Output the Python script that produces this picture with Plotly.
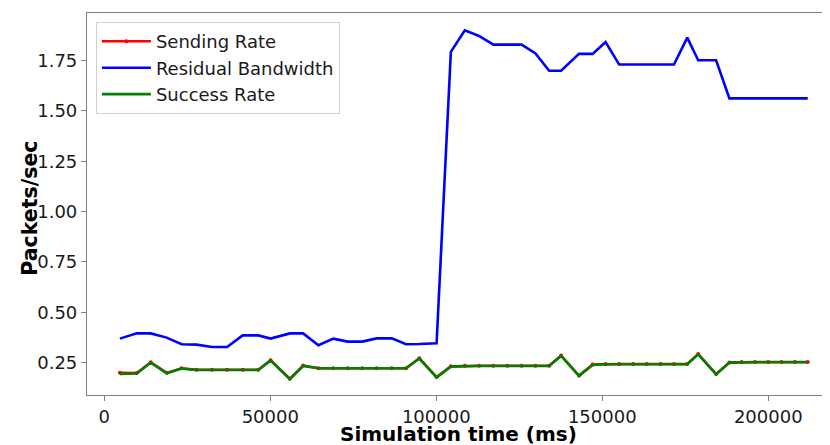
import plotly.graph_objects as go

time_ms = [4700, 9800, 14000, 18800, 23300, 27800, 32500, 37000, 41700, 46400,
           50100, 55900, 59900, 64500, 69000, 73300, 77700, 82000, 86600, 90900,
           94900, 100100, 104400, 108600, 112900, 117200, 121400, 125700, 129900, 134000,
           137600, 143000, 147100, 151000, 155100, 159300, 163400, 167600, 171600, 175600,
           178900, 184300, 188300, 192000, 196000, 200000, 204000, 208000, 211900]

residual_bw = [0.369, 0.395, 0.395, 0.374, 0.341, 0.339, 0.327, 0.327, 0.385, 0.385,
               0.369, 0.395, 0.395, 0.336, 0.369, 0.354, 0.354, 0.370, 0.370, 0.341,
               0.342, 0.346, 1.793, 1.900, 1.872, 1.829, 1.829, 1.829, 1.785, 1.699,
               1.699, 1.783, 1.783, 1.842, 1.730, 1.730, 1.730, 1.730, 1.730, 1.864,
               1.751, 1.751, 1.562, 1.562, 1.562, 1.562, 1.562, 1.562, 1.562]

success_rate = [0.194, 0.196, 0.250, 0.197, 0.220, 0.213, 0.213, 0.213, 0.213, 0.213,
                0.260, 0.167, 0.233, 0.222, 0.222, 0.222, 0.222, 0.222, 0.222, 0.222,
                0.270, 0.176, 0.230, 0.233, 0.233, 0.233, 0.233, 0.233, 0.233, 0.233,
                0.283, 0.184, 0.238, 0.242, 0.242, 0.242, 0.242, 0.242, 0.242, 0.242,
                0.291, 0.191, 0.250, 0.252, 0.252, 0.252, 0.252, 0.252, 0.252]

sending_rate = [0.200, 0.198, 0.252, 0.199, 0.222, 0.214, 0.214, 0.214, 0.214, 0.214,
                0.262, 0.170, 0.235, 0.222, 0.222, 0.222, 0.222, 0.222, 0.222, 0.222,
                0.272, 0.178, 0.232, 0.234, 0.234, 0.234, 0.234, 0.234, 0.234, 0.234,
                0.285, 0.186, 0.240, 0.243, 0.243, 0.243, 0.243, 0.243, 0.243, 0.243,
                0.293, 0.193, 0.251, 0.253, 0.253, 0.253, 0.253, 0.253, 0.253]

y_ticks = [0.25, 0.50, 0.75, 1.00, 1.25, 1.50, 1.75]
x_ticks = [0, 50000, 100000, 150000, 200000]

x_title = "Simulation time (ms)"
y_title = "Packets/sec"

FONT = "DejaVu Sans"

fig = go.Figure()
fig.add_trace(go.Scatter(x=time_ms, y=sending_rate, name="Sending Rate",
                         mode="lines+markers",
                         line=dict(color="#ff0000", width=2.5),
                         marker=dict(color="#ff0000", size=4, symbol="circle")))
fig.add_trace(go.Scatter(x=time_ms, y=residual_bw, name="Residual Bandwidth",
                         mode="lines", line=dict(color="#0000ff", width=2.6)))
fig.add_trace(go.Scatter(x=time_ms, y=success_rate, name="Success Rate",
                         mode="lines", line=dict(color="#008000", width=2.6)))

axis_common = dict(
    showline=True, linecolor="#808080", linewidth=1.2, mirror=True,
    ticks="outside", ticklen=5, tickwidth=1, tickcolor="#808080",
    showgrid=False, zeroline=False, automargin=False,
    tickfont=dict(family=FONT, size=18, color="#1a1a1a"),
)

# page body has an 8px margin: figure is sized/offset to compensate
fig.update_layout(
    width=822, height=437,
    margin=dict(l=79, r=1, t=5, b=50, autoexpand=False),
    paper_bgcolor="white", plot_bgcolor="white",
    font=dict(family=FONT, color="#000000"),
    xaxis=dict(axis_common, range=[-5200, 218300], tickvals=x_ticks,
               ticktext=[str(v) for v in x_ticks]),
    yaxis=dict(axis_common, range=[0.089, 1.986], tickvals=y_ticks,
               ticktext=[f"{v:.2f}" for v in y_ticks]),
    legend=dict(x=0.012, y=0.976, xanchor="left", yanchor="top",
                bgcolor="rgba(255,255,255,0.8)", bordercolor="#d0d0d0", borderwidth=1,
                font=dict(family=FONT, size=18, color="#1a1a1a"),
                itemwidth=49, tracegroupgap=0),
    showlegend=True,
    annotations=[
        dict(text=f"<b>{x_title}</b>", xref="paper", yref="paper",
             x=0.5, y=-0.103, xanchor="center", yanchor="middle", showarrow=False,
             font=dict(family=FONT, size=20, color="#000")),
        dict(text=f"<b>{y_title}</b>", xref="paper", yref="paper",
             x=-0.077, y=0.49, xanchor="center", yanchor="middle", showarrow=False,
             textangle=-90, font=dict(family=FONT, size=20.5, color="#000")),
    ],
)

fig.write_html("out.html")
